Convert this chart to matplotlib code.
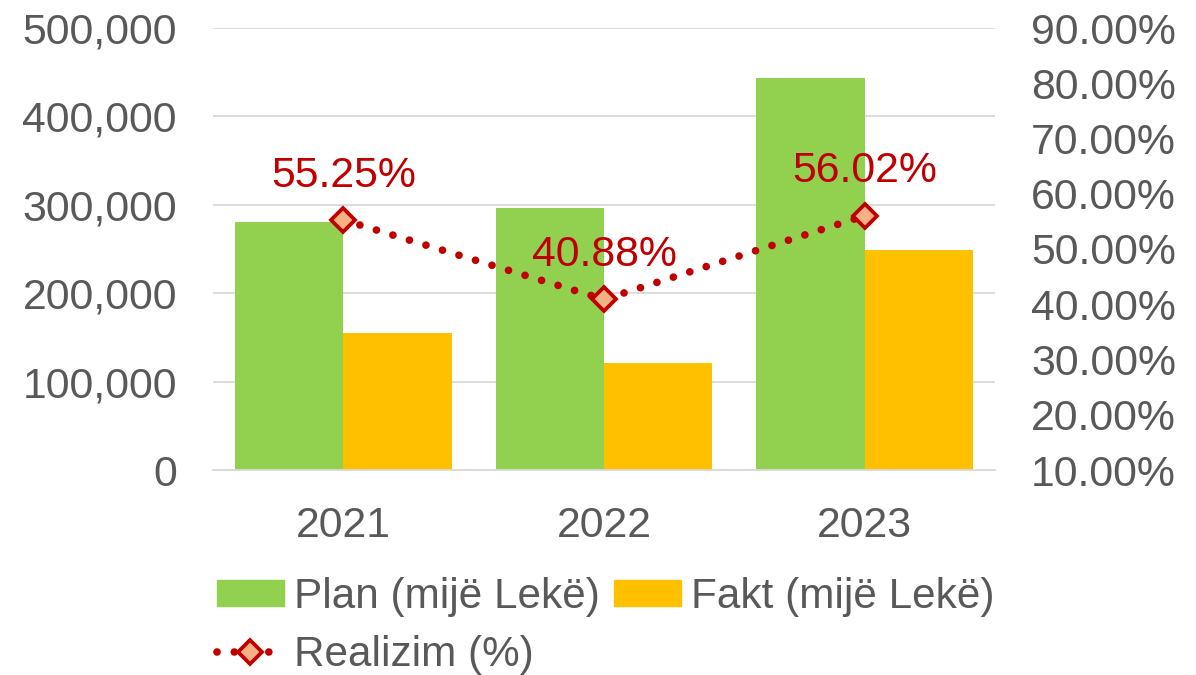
import matplotlib
matplotlib.use("Agg")
import matplotlib.pyplot as plt
from matplotlib.ticker import FuncFormatter, MultipleLocator
from matplotlib.patches import Patch
from matplotlib.lines import Line2D

years = ["2021", "2022", "2023"]
plan = [281000, 296200, 444000]
fakt = [155250, 121100, 248700]
realizim = [55.25, 40.88, 56.02]
realizim_labels = ["55.25%", "40.88%", "56.02%"]

plt.rcParams['font.family'] = ['Liberation Sans', 'DejaVu Sans']
GREY = '#595959'
RED = '#C00000'
FS = 30.8
LFS = 30.4

fig = plt.figure(figsize=(11.96, 6.75), dpi=100)
ax = fig.add_axes([213/1196, 1-470/675, (995-213)/1196, (470-28)/675])
ax2 = ax.twinx()

x = list(range(len(years)))
w = 0.416
ax.bar([i - w/2 for i in x], plan, width=w, color='#92D050', zorder=2)
ax.bar([i + w/2 for i in x], fakt, width=w, color='#FFC000', zorder=2)
ax.set_xlim(-0.5, 2.5)
ax.set_ylim(0, 500000)
ax.yaxis.set_major_locator(MultipleLocator(100000))
ax.yaxis.set_major_formatter(FuncFormatter(lambda v, p: f"{int(v):,}"))
ax.grid(axis='y', color='#D9D9D9', linewidth=1.3, zorder=0)
ax.set_axisbelow(True)
for s in ['top', 'right', 'left']:
    ax.spines[s].set_visible(False)
ax.spines['bottom'].set_color('#D9D9D9')
ax.spines['bottom'].set_linewidth(1.3)
ax.set_xticks(x)
ax.set_xticklabels(years)
ax.tick_params(axis='both', length=0, labelsize=FS, labelcolor=GREY, pad=26)

ax2.set_ylim(10, 90)
ax2.yaxis.set_major_locator(MultipleLocator(10))
ax2.yaxis.set_major_formatter(FuncFormatter(lambda v, p: f"{v:.2f}%"))
ax2.tick_params(axis='y', length=0, labelsize=FS, labelcolor=GREY, pad=26)
for s in ax2.spines.values():
    s.set_visible(False)

LS = dict(color=RED, linewidth=5.5, linestyle=(0, (0.01, 2.25)),
          dash_capstyle='round', marker='D', markersize=12,
          markerfacecolor='#F4B183', markeredgecolor=RED, markeredgewidth=2.7)
ax2.plot(x, realizim, zorder=5, **LS)
for xi, v, lab in zip(x, realizim, realizim_labels):
    ax2.annotate(lab, (xi, v), xytext=(0, 32), textcoords='offset points',
                 ha='center', va='center', fontsize=FS, color=RED)

handles = [Patch(color='#92D050'),
           Line2D([0], [0], **LS),
           Patch(color='#FFC000')]
labels = ["Plan (mijë Lekë)", "Realizim (%)", "Fakt (mijë Lekë)"]
leg = fig.legend(handles, labels, ncol=2, loc='upper left',
                 bbox_to_anchor=(217/1196, 1-577/675), frameon=False,
                 fontsize=LFS, labelcolor=GREY, handlelength=1.58,
                 handletextpad=0.25, columnspacing=0.33, labelspacing=0.42,
                 borderpad=0, borderaxespad=0, handleheight=0.55)

fig.savefig("out.png", dpi=100)
